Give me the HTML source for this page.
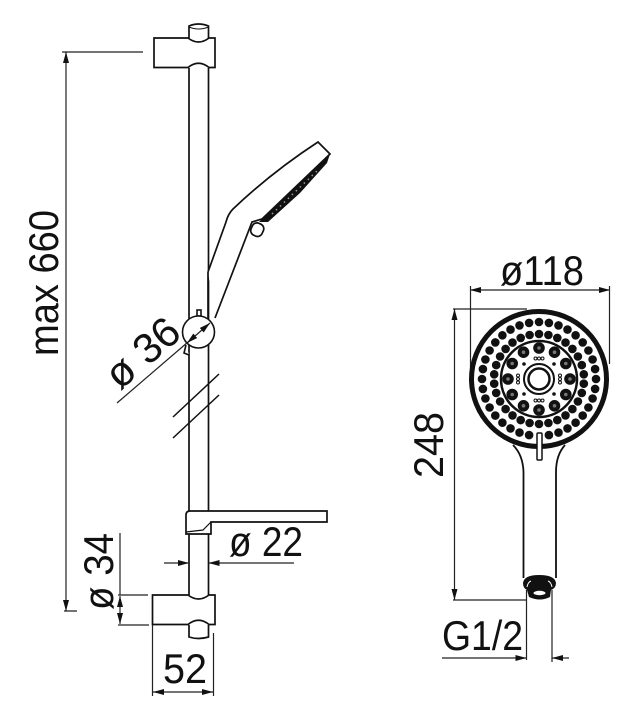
<!DOCTYPE html>
<html><head><meta charset="utf-8"><style>
html,body{margin:0;padding:0;background:#fff}
svg{display:block}
text{font-family:"Liberation Sans",sans-serif;fill:#111;font-size:42px}
</style></head><body>
<svg width="634" height="720" viewBox="0 0 634 720" xmlns="http://www.w3.org/2000/svg">
<defs>
<marker id="a" markerWidth="11" markerHeight="6" refX="11" refY="3" orient="auto-start-reverse" markerUnits="userSpaceOnUse"><path d="M0 0L11 3L0 6z" fill="#111"/></marker>
</defs>
<!-- rod -->
<g fill="none" stroke="#111" stroke-width="1.700">
<path d="M189 68V595M208.500 68V595"/>
<path d="M189 38V26Q198.500 22 208.500 26V38"/>
<path d="M189 27Q198.500 31 208.500 27" stroke-width="1"/>
<path d="M154 38H188Q198.500 46 209 38H215V67.500H209Q198.500 59 188 67.500H154Z" fill="#fff"/>
<!-- bottom clamp -->
<path d="M189 625V637Q198.500 640 208.500 637V625"/>
<path d="M152.500 595H188Q198.500 603 209 595H215V624.500H209Q198.500 616 188 624.500H152.500Z" fill="#fff"/>
<!-- shelf -->
<path d="M186 534V515Q186 511 190 511H327V522H211V534Z" fill="#fff"/>
<path d="M186 532L203 530L211 522" stroke-width="1.200"/>
<!-- head -->
<path d="M208 272L226 222Q228 214 233 209Q272 172 318 142L330 154L262 219L252 222L215 318" fill="#fff"/>
<path d="M208 272V322" stroke="#111"/>
<rect x="251.500" y="223" width="12" height="13" rx="5" transform="rotate(25 257 229)" fill="#fff"/>
</g>
<path d="M330 154L327 163L300 193L268 222L259 222Z" fill="#111"/>
<path d="M272 214L318 170" stroke="#999" stroke-width="1.500" stroke-dasharray="1.500 4"/>
<!-- slider -->
<g stroke="#111" stroke-width="1.600" fill="#fff">
<rect x="197" y="310" width="4" height="6"/>
<path d="M186 345L184 353L189 355"/>
<circle cx="198.500" cy="332" r="16"/>
</g>
<!-- breaks -->
<g stroke="#111" stroke-width="1.500">
<path d="M173 417L219 374M173 438L219 395"/>
</g>
<!-- dims -->
<g fill="none" stroke="#222" stroke-width="1.200">
<path d="M62 52H143M64 611H77"/>
<path d="M66 52V611" marker-start="url(#a)" marker-end="url(#a)"/>
<path d="M117 403L188 342" />
<path d="M187 343L210 323" marker-start="url(#a)" marker-end="url(#a)"/>
<path d="M164 563H189" marker-end="url(#a)"/>
<path d="M294 563H208.500" marker-end="url(#a)"/>
<path d="M120 533V595"/>
<path d="M118 595H148M118 625H149"/>
<path d="M120 596V624" marker-start="url(#a)" marker-end="url(#a)"/>
<path d="M152.500 625V696M213.500 633V696"/>
<path d="M153 692H213" marker-start="url(#a)" marker-end="url(#a)"/>
<path d="M470 290H610" marker-start="url(#a)" marker-end="url(#a)"/>
<path d="M470.500 286V372M609.500 286V364"/>
<path d="M453 309H527"/>
<path d="M453 600H527"/>
<path d="M454.500 309V600" marker-start="url(#a)" marker-end="url(#a)"/>
<path d="M526.500 590V660M552 590V662"/>
<path d="M442 658H526.500" marker-end="url(#a)"/>
<path d="M569 658H552" marker-end="url(#a)"/>
</g>
<!-- texts -->
<text x="229" y="556" textLength="74" lengthAdjust="spacingAndGlyphs">ø 22</text>
<text x="163" y="683" textLength="44" lengthAdjust="spacingAndGlyphs">52</text>
<text transform="translate(113 610) rotate(-90)" textLength="77" lengthAdjust="spacingAndGlyphs">ø 34</text>
<text transform="translate(58 356) rotate(-90)" textLength="146" lengthAdjust="spacingAndGlyphs">max 660</text>
<text transform="translate(120 391) rotate(-41)" textLength="84" lengthAdjust="spacingAndGlyphs">ø 36</text>
<text x="500" y="285" textLength="84" lengthAdjust="spacingAndGlyphs">ø118</text>
<text transform="translate(443 478) rotate(-90)" textLength="66" lengthAdjust="spacingAndGlyphs">248</text>
<text x="442" y="650" textLength="81" lengthAdjust="spacingAndGlyphs">G1/2</text>
<!-- front view handle -->
<g fill="none" stroke="#111" stroke-width="1.800">
<path d="M513 445Q523 455 523.500 472V578M565 445Q556 455 556 472V578"/>
</g>
<path d="M523 583Q524 575 539 575Q555 575 556 583Q556 588 551 590L550 597Q540 602 529 597L527 590Q523 588 523 583Z" fill="#111"/>
<ellipse cx="539.500" cy="593" rx="6" ry="2.200" fill="#fff"/>
<path d="M527 587Q528 582 531 581M552 587Q551 582 548 581" stroke="#fff" stroke-width="1" fill="none"/>
<!-- face -->
<circle cx="539" cy="379" r="67.500" fill="#fff" stroke="#111" stroke-width="5"/>
<circle cx="539" cy="379" r="38" fill="none" stroke="#111" stroke-width="2.500"/>
<g fill="#111" stroke="#111" stroke-width=".6">
<circle cx="539.000" cy="322.000" r="4"/><circle cx="548.900" cy="322.900" r="4"/><circle cx="558.500" cy="325.400" r="4"/><circle cx="567.500" cy="329.600" r="4"/><circle cx="575.600" cy="335.300" r="4"/><circle cx="582.700" cy="342.400" r="4"/><circle cx="588.400" cy="350.500" r="4"/><circle cx="592.600" cy="359.500" r="4"/><circle cx="595.100" cy="369.100" r="4"/><circle cx="596.000" cy="379.000" r="4"/><circle cx="595.100" cy="388.900" r="4"/><circle cx="592.600" cy="398.500" r="4"/><circle cx="588.400" cy="407.500" r="4"/><circle cx="582.700" cy="415.600" r="4"/><circle cx="575.600" cy="422.700" r="4"/><circle cx="567.500" cy="428.400" r="4"/><circle cx="558.500" cy="432.600" r="4"/><circle cx="548.900" cy="435.100" r="4"/><circle cx="529.100" cy="435.100" r="4"/><circle cx="519.500" cy="432.600" r="4"/><circle cx="510.500" cy="428.400" r="4"/><circle cx="502.400" cy="422.700" r="4"/><circle cx="495.300" cy="415.600" r="4"/><circle cx="489.600" cy="407.500" r="4"/><circle cx="485.400" cy="398.500" r="4"/><circle cx="482.900" cy="388.900" r="4"/><circle cx="482.000" cy="379.000" r="4"/><circle cx="482.900" cy="369.100" r="4"/><circle cx="485.400" cy="359.500" r="4"/><circle cx="489.600" cy="350.500" r="4"/><circle cx="495.300" cy="342.400" r="4"/><circle cx="502.400" cy="335.300" r="4"/><circle cx="510.500" cy="329.600" r="4"/><circle cx="519.500" cy="325.400" r="4"/><circle cx="529.100" cy="322.900" r="4"/>
<circle cx="539.000" cy="334.000" r="4"/><circle cx="548.400" cy="335.000" r="4"/><circle cx="557.300" cy="337.900" r="4"/><circle cx="565.500" cy="342.600" r="4"/><circle cx="572.400" cy="348.900" r="4"/><circle cx="577.900" cy="356.500" r="4"/><circle cx="581.800" cy="365.100" r="4"/><circle cx="583.800" cy="374.300" r="4"/><circle cx="583.800" cy="383.700" r="4"/><circle cx="581.800" cy="392.900" r="4"/><circle cx="577.900" cy="401.500" r="4"/><circle cx="572.400" cy="409.100" r="4"/><circle cx="565.500" cy="415.400" r="4"/><circle cx="557.300" cy="420.100" r="4"/><circle cx="548.400" cy="423.000" r="4"/><circle cx="539.000" cy="424.000" r="4"/><circle cx="529.600" cy="423.000" r="4"/><circle cx="520.700" cy="420.100" r="4"/><circle cx="512.500" cy="415.400" r="4"/><circle cx="505.600" cy="409.100" r="4"/><circle cx="500.100" cy="401.500" r="4"/><circle cx="496.200" cy="392.900" r="4"/><circle cx="494.200" cy="383.700" r="4"/><circle cx="494.200" cy="374.300" r="4"/><circle cx="496.200" cy="365.100" r="4"/><circle cx="500.100" cy="356.500" r="4"/><circle cx="505.600" cy="348.900" r="4"/><circle cx="512.500" cy="342.600" r="4"/><circle cx="520.700" cy="337.900" r="4"/><circle cx="529.600" cy="335.000" r="4"/>
</g>
<g fill="#777" stroke="#111" stroke-width="4">
<circle cx="539.000" cy="348.000" r="3.800"/><circle cx="554.500" cy="352.200" r="3.800"/><circle cx="565.800" cy="363.500" r="3.800"/><circle cx="570.000" cy="379.000" r="3.800"/><circle cx="565.800" cy="394.500" r="3.800"/><circle cx="554.500" cy="405.800" r="3.800"/><circle cx="539.000" cy="410.000" r="3.800"/><circle cx="523.500" cy="405.800" r="3.800"/><circle cx="512.200" cy="394.500" r="3.800"/><circle cx="508.000" cy="379.000" r="3.800"/><circle cx="512.200" cy="363.500" r="3.800"/><circle cx="523.500" cy="352.200" r="3.800"/>
</g>
<g fill="#111">
<circle cx="524" cy="364" r="1.800"/><circle cx="554" cy="364" r="1.800"/><circle cx="524" cy="394" r="1.800"/><circle cx="554" cy="394" r="1.800"/>
</g>
<g fill="#fff" stroke="#111" stroke-width="1">
<circle cx="535.500" cy="358.500" r="1.500"/><circle cx="539" cy="358.500" r="1.500"/><circle cx="542.500" cy="358.500" r="1.500"/>
<circle cx="535.500" cy="400.500" r="1.500"/><circle cx="539" cy="400.500" r="1.500"/><circle cx="542.500" cy="400.500" r="1.500"/>
<circle cx="518" cy="375.500" r="1.500"/><circle cx="518" cy="379" r="1.500"/><circle cx="518" cy="382.500" r="1.500"/>
<circle cx="560" cy="375.500" r="1.500"/><circle cx="560" cy="379" r="1.500"/><circle cx="560" cy="382.500" r="1.500"/>
</g>
<circle cx="539" cy="379" r="15" fill="#fff" stroke="#111" stroke-width="2"/>
<circle cx="539" cy="379" r="10.500" fill="#fff" stroke="#111" stroke-width="2.500"/>
<rect x="537" y="433" width="5" height="27" rx="1" fill="#fff" stroke="#111" stroke-width="1.500"/>
</svg>
</body></html>
